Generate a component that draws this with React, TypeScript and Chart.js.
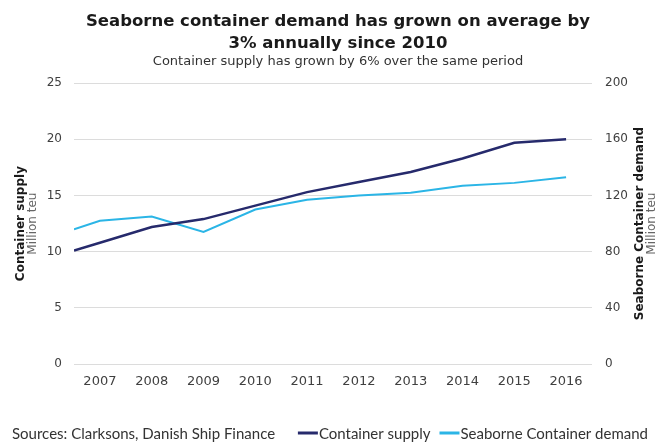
import React, { useEffect, useRef } from 'react';
import { Chart, registerables } from 'chart.js';

Chart.register(...registerables);

// ---- data ----
const years = [2006.5, 2007, 2008, 2009, 2010, 2011, 2012, 2013, 2014, 2015, 2016];
const yearTicks = [2007, 2008, 2009, 2010, 2011, 2012, 2013, 2014, 2015, 2016];
const containerSupply = [10.1, 10.8, 12.2, 12.9, 14.1, 15.3, 16.2, 17.1, 18.3, 19.7, 20.0];
const seaborneDemand = [96, 102, 105, 94, 110, 117, 120, 122, 127, 129, 133];

const titleLines = ['Seaborne container demand has grown on average by', '3% annually since 2010'];
const subtitleText = 'Container supply has grown by 6% over the same period';
const sourceText = 'Sources: Clarksons, Danish Ship Finance';
const seriesNames = ['Container supply', 'Seaborne Container demand'];
const leftAxisTitle = ['Container supply', 'Million teu'];
const rightAxisTitle = ['Seaborne Container demand', 'Million teu'];

const NAVY = '#262a6c';
const CYAN = '#2bb5e6';
const MAIN_FONT = "'DejaVu Sans', Verdana, sans-serif";
const NOTE_FONT = "Lato, 'Open Sans', sans-serif";

const decorPlugin = {
  id: 'decor',
  afterDraw(chart: any) {
    const { ctx, chartArea, width, height } = chart;
    const cy = (chartArea.top + chartArea.bottom) / 2;
    const rot = (text: string, x: number, font: string, color: string) => {
      ctx.save();
      ctx.translate(x, cy);
      ctx.rotate(-Math.PI / 2);
      ctx.font = font;
      ctx.fillStyle = color;
      ctx.textAlign = 'center';
      ctx.textBaseline = 'middle';
      ctx.fillText(text, 0, 0);
      ctx.restore();
    };
    rot(leftAxisTitle[0], chartArea.left - 53, `bold 12px ${MAIN_FONT}`, '#1a1a1a');
    rot(leftAxisTitle[1], chartArea.left - 41, `12px ${MAIN_FONT}`, '#666666');
    rot(rightAxisTitle[0], chartArea.right + 48, `bold 12px ${MAIN_FONT}`, '#1a1a1a');
    rot(rightAxisTitle[1], chartArea.right + 60, `12px ${MAIN_FONT}`, '#666666');

    // footer: sources + legend
    const fy = height - 8;
    ctx.save();
    ctx.font = `15px ${NOTE_FONT}`;
    ctx.fillStyle = '#333333';
    ctx.textBaseline = 'middle';
    ctx.textAlign = 'left';
    ctx.fillText(sourceText, 12, fy);
    const ds = chart.data.datasets;
    const lineLen = 20;
    const gap = 1;
    const itemGap = 9;
    const widths = ds.map((d: any) => lineLen + gap + ctx.measureText(d.label).width);
    const total = widths.reduce((a: number, b: number) => a + b, 0) + itemGap * (ds.length - 1);
    let x = width - 12 - total;
    ds.forEach((d: any, i: number) => {
      ctx.strokeStyle = d.borderColor;
      ctx.lineWidth = 3;
      ctx.beginPath();
      ctx.moveTo(x, fy - 1);
      ctx.lineTo(x + lineLen, fy - 1);
      ctx.stroke();
      ctx.fillStyle = '#333333';
      ctx.fillText(d.label, x + lineLen + gap, fy);
      x += widths[i] + itemGap;
    });
    ctx.restore();
  },
};

export default function App() {
  const canvasRef = useRef<HTMLCanvasElement | null>(null);

  useEffect(() => {
    const canvas = canvasRef.current;
    if (!canvas) return;
    const chart = new Chart(canvas, {
      type: 'line',
      data: {
        labels: years,
        datasets: [
          {
            label: seriesNames[0],
            data: years.map((y, i) => ({ x: y, y: containerSupply[i] })),
            borderColor: NAVY,
            backgroundColor: NAVY,
            borderWidth: 2.5,
            pointRadius: 0,
            tension: 0,
            yAxisID: 'y',
          },
          {
            label: seriesNames[1],
            data: years.map((y, i) => ({ x: y, y: seaborneDemand[i] })),
            borderColor: CYAN,
            backgroundColor: CYAN,
            borderWidth: 2,
            pointRadius: 0,
            tension: 0,
            yAxisID: 'y1',
          },
        ],
      },
      options: {
        responsive: false,
        animation: false,
        layout: { padding: { left: 16, right: 0, top: 0, bottom: 46 } },
        plugins: {
          legend: { display: false },
          tooltip: { enabled: false },
          title: {
            display: true,
            text: titleLines,
            color: '#1a1a1a',
            font: { family: MAIN_FONT, size: 16.5, weight: 'bold', lineHeight: 1.33 },
            padding: { top: 11, bottom: 0 },
          },
          subtitle: {
            display: true,
            text: subtitleText,
            color: '#333333',
            font: { family: MAIN_FONT, size: 13, lineHeight: 1.1 },
            padding: { top: 0, bottom: 14 },
          },
        },
        scales: {
          x: {
            type: 'linear',
            min: 2006.5,
            max: 2016.5,
            grid: { display: false, drawTicks: false },
            border: { display: false },
            afterBuildTicks: (scale: any) => {
              scale.ticks = yearTicks.map((v) => ({ value: v }));
            },
            afterFit: (scale: any) => {
              scale.height = 32;
            },
            ticks: {
              autoSkip: false,
              maxRotation: 0,
              padding: 10,
              color: '#404040',
              font: { family: MAIN_FONT, size: 13 },
              callback: (v: any) => String(v),
            },
          },
          y: {
            position: 'left',
            min: 0,
            max: 25,
            grid: { color: '#dcdcdc', drawTicks: false, lineWidth: 1 },
            border: { display: false },
            afterFit: (scale: any) => {
              scale.width = 58;
            },
            ticks: {
              stepSize: 5,
              padding: 12,
              color: '#404040',
              font: { family: MAIN_FONT, size: 12 },
            },
          },
          y1: {
            position: 'right',
            min: 0,
            max: 200,
            grid: { display: false, drawOnChartArea: false, drawTicks: false },
            border: { display: false },
            afterFit: (scale: any) => {
              scale.width = 68;
            },
            ticks: {
              stepSize: 40,
              padding: 13,
              color: '#404040',
              font: { family: MAIN_FONT, size: 12 },
            },
          },
        },
      },
      plugins: [decorPlugin],
    } as any);
    return () => chart.destroy();
  }, []);

  return (
    <div style={{ position: 'absolute', left: 0, top: 0, width: 660, height: 442, background: '#ffffff' }}>
      <canvas ref={canvasRef} width={660} height={442} style={{ display: 'block' }} />
    </div>
  );
}
